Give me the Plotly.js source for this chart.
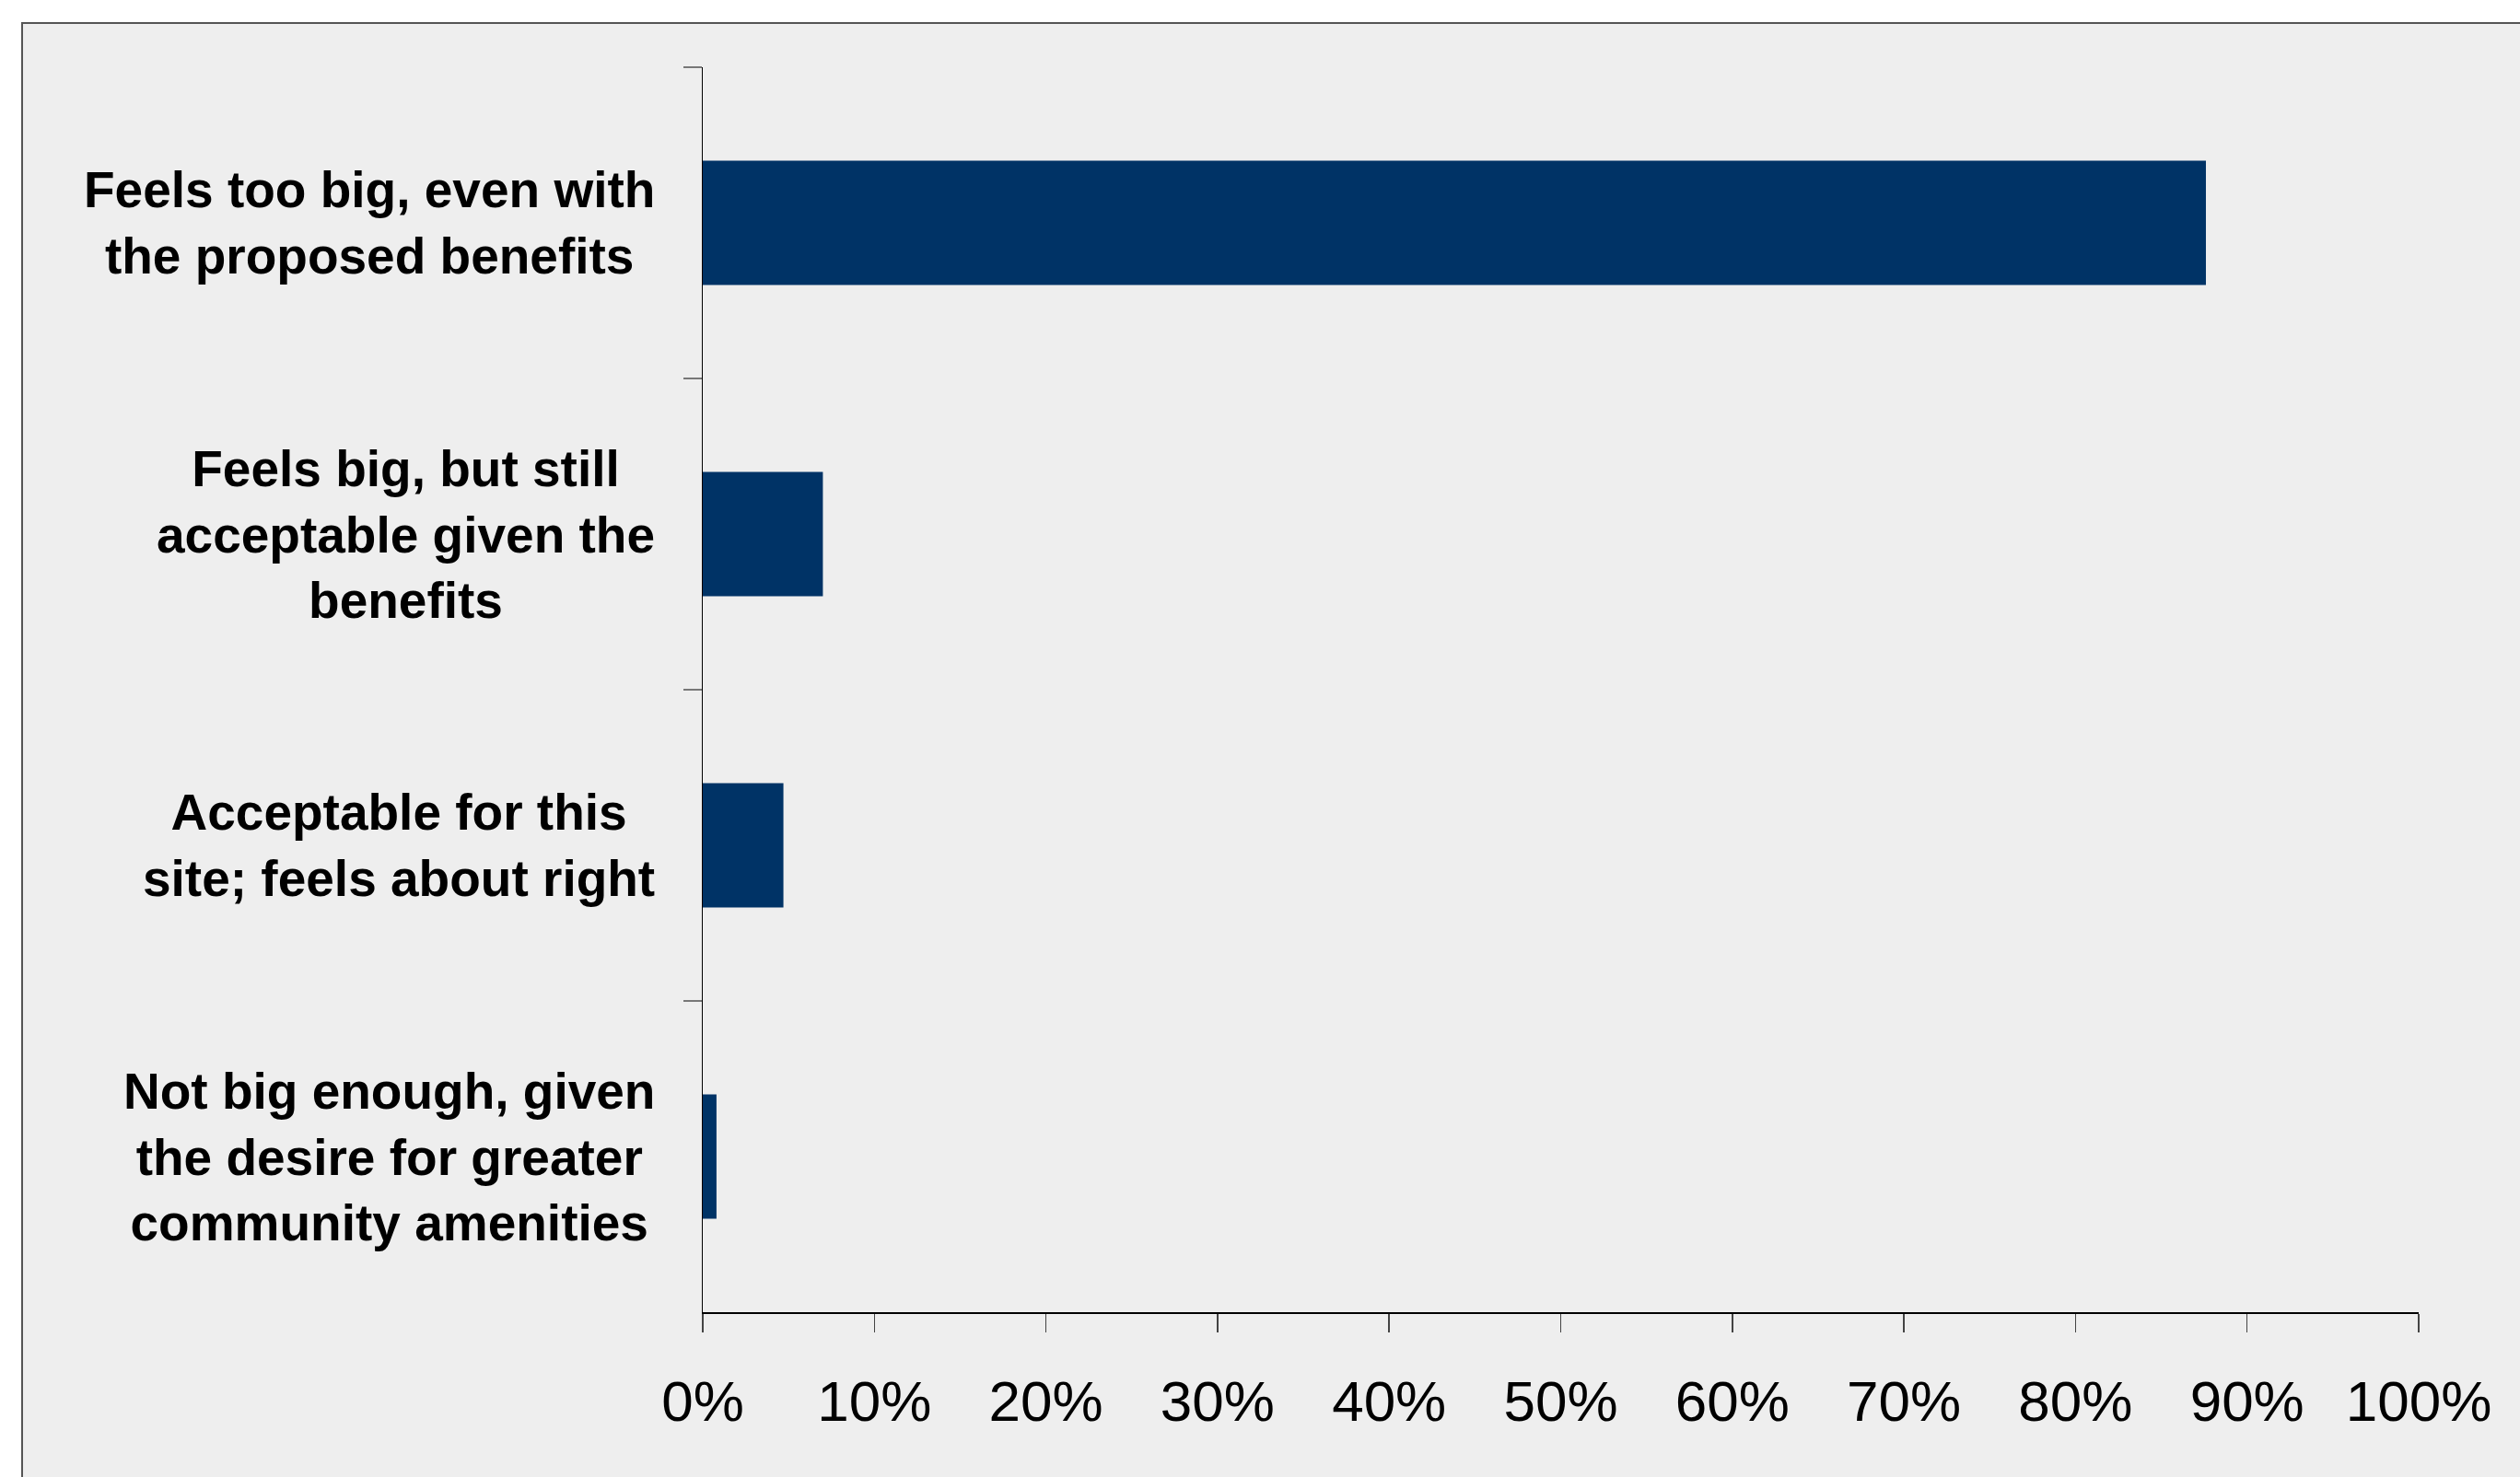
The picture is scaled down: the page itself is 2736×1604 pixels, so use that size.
<!DOCTYPE html>
<html>
<head>
<meta charset="utf-8">
<script src="https://cdn.plot.ly/plotly-3.0.1.min.js"></script>
<style>
  html, body { margin: 0; padding: 0; background: #ffffff; width: 2736px; height: 1604px; overflow: hidden; }
  #frame { position: absolute; left: 23px; top: 24px; width: 2713px; height: 1580px;
           border-top: 2px solid #555555; border-left: 2px solid #555555; background: #eeeeee; }
  #chart { width: 2711px; height: 1578px; }
</style>
</head>
<body>
<div id="frame"><div id="chart"></div></div>
<script>
// Category labels (one entry per line of each label)
const categoryLines = [
  ["Feels too big, even with", "the proposed benefits"],
  ["Feels big, but still", "acceptable given the", "benefits"],
  ["Acceptable for this", "site; feels about right"],
  ["Not big enough, given", "the desire for greater", "community amenities"]
];
// Share of respondents (fraction)
const shares = [0.876, 0.070, 0.047, 0.008];
// X-axis tick values and labels
const xTickVals = [0, 0.1, 0.2, 0.3, 0.4, 0.5, 0.6, 0.7, 0.8, 0.9, 1.0];
const xTickText = ["0%", "10%", "20%", "30%", "40%", "50%", "60%", "70%", "80%", "90%", "100%"];

const categories = categoryLines.map(l => l.join(" "));
const fontFamily = "'Liberation Sans', Arial, sans-serif";

const trace = {
  type: "bar",
  orientation: "h",
  x: shares,
  y: categories,
  marker: { color: "#003366", line: { width: 0 } },
  hoverinfo: "x+y"
};

const annotations = categoryLines.map((lines, i) => ({
  xref: "paper", x: 0, xanchor: "right", xshift: -50,
  yref: "y", y: categories[i], yanchor: "middle",
  text: lines.join("<br>"),
  align: "center",
  showarrow: false,
  font: { family: fontFamily, size: 55, color: "#000000", weight: "bold" }
}));

const layout = {
  width: 2711, height: 1578,
  margin: { l: 738, r: 110, t: 47, b: 179, pad: 0 },
  paper_bgcolor: "#eeeeee",
  plot_bgcolor: "#eeeeee",
  showlegend: false,
  bargap: 0.6,
  font: { family: fontFamily, color: "#000000" },
  xaxis: {
    range: [0, 1],
    tickvals: xTickVals,
    ticktext: xTickText,
    ticks: "outside", ticklen: 20, tickwidth: 1.5, tickcolor: "#444444",
    showline: true, linecolor: "#000000", linewidth: 1.5,
    showgrid: false, zeroline: false,
    tickfont: { family: fontFamily, size: 62, color: "#000000" },
    ticklabelstandoff: 22,
    fixedrange: true
  },
  yaxis: {
    type: "category",
    categoryorder: "array",
    categoryarray: categories,
    autorange: "reversed",
    tickson: "boundaries",
    ticks: "outside", ticklen: 20, tickwidth: 1.5, tickcolor: "#777777",
    showticklabels: false,
    showline: true, linecolor: "#000000", linewidth: 1.5,
    showgrid: false, zeroline: false,
    fixedrange: true
  },
  annotations: annotations
};

Plotly.newPlot("chart", [trace], layout, { displayModeBar: false, staticPlot: true });
</script>
</body>
</html>
